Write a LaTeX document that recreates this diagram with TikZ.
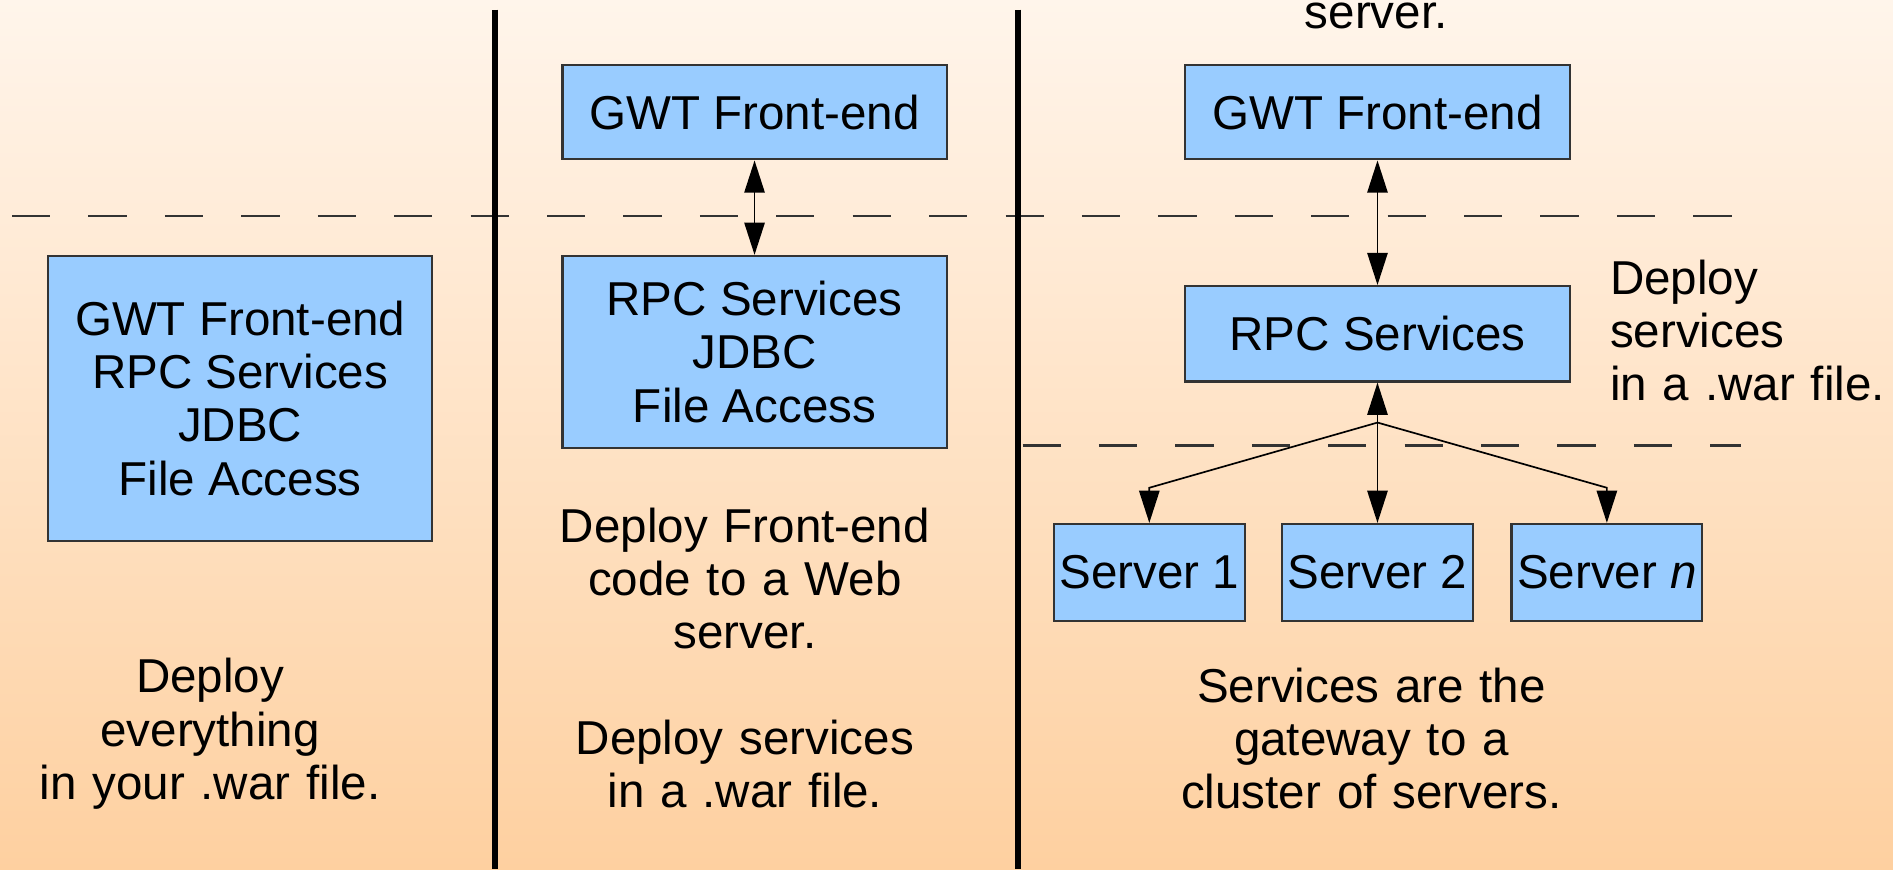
\documentclass[tikz,border=0pt]{standalone}
\usepackage{fontspec}
\setmainfont{Liberation Sans}
\usetikzlibrary{arrows.meta}
\definecolor{bgtop}{HTML}{FFF5EB}
\definecolor{bgbot}{HTML}{FED0A0}
\definecolor{boxfill}{HTML}{99CCFF}
\definecolor{boxline}{HTML}{333333}
\tikzset{
  every node/.style={font=\fontsize{11.2pt}{12.5pt}\selectfont},
  box/.style={draw=boxline, fill=boxfill, line width=0.5pt, inner sep=0pt, align=center},
  txt/.style={text width=4cm, align=center, inner sep=0pt, anchor=base},
  txtl/.style={text width=2.4cm, align=left, inner sep=0pt, anchor=base west},
  tip/.style={-{Triangle[width=4.8pt,length=7.6pt]}, line width=0.4pt},
  dtip/.style={{Triangle[width=4.8pt,length=7.6pt]}-{Triangle[width=4.8pt,length=7.6pt]}, line width=0.4pt},
  tierline/.style={draw=boxline, line width=0.5pt, dash pattern=on 9pt off 9pt},
  sepline/.style={line width=1.4pt},
}
\begin{document}
\begin{tikzpicture}[x=0.01cm, y=-0.01cm]
\useasboundingbox (0,0) rectangle (1568,720);
\shade[top color=bgtop, bottom color=bgbot] (0,0) rectangle (1568,720);

% tier lines
\draw[tierline] (10,179) -- (1442,179);
\draw[tierline] (847,369) -- (1442,369);

% separators
\draw[sepline] (410,8) -- (410,720);
\draw[sepline] (843,8) -- (843,720);

% column 1
\node[box, minimum width=3.18cm, minimum height=2.36cm] (A) at (199,330)
  {GWT Front-end\\RPC Services\\JDBC\\File Access};
\node[txt] (tA) at (174,574) {Deploy\\everything\\in your .war file.};

% column 2
\node[box, minimum width=3.18cm, minimum height=0.78cm] (B) at (625,93) {GWT Front-end};
\node[box, minimum width=3.18cm, minimum height=1.59cm] (C) at (625,291.5)
  {RPC Services\\JDBC\\File Access};
\draw[dtip] (B) -- (C);
\node[txt] (tB) at (617,449) {Deploy Front-end\\code to a Web\\server.};
\node[txt] (tC) at (617,625) {Deploy services\\in a .war file.};

% column 3
\node[txt] (tTop) at (1140,24) {server.};
\node[box, minimum width=3.18cm, minimum height=0.78cm] (D) at (1141,93) {GWT Front-end};
\node[box, minimum width=3.18cm, minimum height=0.79cm] (E) at (1141,276.5) {RPC Services};
\draw[dtip] (D) -- (E);
\node[txtl] (tE) at (1333,244) {Deploy\\services\\in a .war file.};

\node[box, minimum width=1.58cm, minimum height=0.80cm] (S1) at (952,474) {Server 1};
\node[box, minimum width=1.58cm, minimum height=0.80cm] (S2) at (1141,474) {Server 2};
\node[box, minimum width=1.58cm, minimum height=0.80cm] (Sn) at (1331,474) {Server \textit{n}};

\coordinate (j) at (1141,350);
\coordinate (b1) at (952,404);
\coordinate (bn) at (1331,404);
\draw[tip] (j) -- (E);
\draw[tip] (j) -- (b1) -- (S1);
\draw[tip] (j) -- (S2);
\draw[tip] (j) -- (bn) -- (Sn);

\node[txt] (tS) at (1136,582) {Services are the\\gateway to a\\cluster of servers.};
\end{tikzpicture}
\end{document}
